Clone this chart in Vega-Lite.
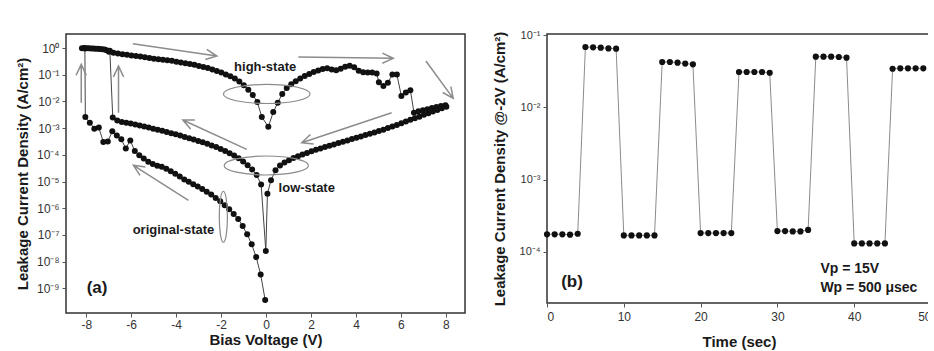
{
  "$schema": "https://vega.github.io/schema/vega-lite/v6.json",
  "background": "white",
  "padding": {"left": 14, "top": 28, "right": -5, "bottom": 0},
  "bounds": "flush",
  "spacing": 82,
  "config": {
    "font": "Liberation Sans",
    "view": {"stroke": "#333", "strokeWidth": 1.5},
    "axis": {"grid": false, "domain": false, "labelFont": "Liberation Sans", "labelFontSize": 12, "labelColor": "#333", "titleFont": "Liberation Sans", "titleFontSize": 15, "titleFontWeight": "bold", "titleColor": "#1a1a1a", "tickColor": "#555", "tickSize": 4, "labelPadding": 3},
    "text": {"font": "Liberation Sans", "fontWeight": "bold", "color": "#1a1a1a"}
  },
  "datasets": {
    "iv": [
      {"state": "orig", "i": 0, "V": -0.04, "J": 3.63e-10},
      {"state": "orig", "i": 1, "V": -0.24, "J": 3.31e-9},
      {"state": "orig", "i": 2, "V": -0.44, "J": 1.48e-8},
      {"state": "orig", "i": 3, "V": -0.64, "J": 4.47e-8},
      {"state": "orig", "i": 4, "V": -0.84, "J": 1.05e-7},
      {"state": "orig", "i": 5, "V": -1.04, "J": 2.14e-7},
      {"state": "orig", "i": 6, "V": -1.24, "J": 3.98e-7},
      {"state": "orig", "i": 7, "V": -1.44, "J": 6.03e-7},
      {"state": "orig", "i": 8, "V": -1.64, "J": 9.12e-7},
      {"state": "orig", "i": 9, "V": -1.84, "J": 1.29e-6},
      {"state": "orig", "i": 10, "V": -2.04, "J": 1.82e-6},
      {"state": "orig", "i": 11, "V": -2.24, "J": 2.40e-6},
      {"state": "orig", "i": 12, "V": -2.44, "J": 3.24e-6},
      {"state": "orig", "i": 13, "V": -2.64, "J": 4.17e-6},
      {"state": "orig", "i": 14, "V": -2.84, "J": 5.25e-6},
      {"state": "orig", "i": 15, "V": -3.04, "J": 6.46e-6},
      {"state": "orig", "i": 16, "V": -3.24, "J": 7.94e-6},
      {"state": "orig", "i": 17, "V": -3.44, "J": 9.77e-6},
      {"state": "orig", "i": 18, "V": -3.64, "J": 1.20e-5},
      {"state": "orig", "i": 19, "V": -3.84, "J": 1.55e-5},
      {"state": "orig", "i": 20, "V": -4.04, "J": 1.95e-5},
      {"state": "orig", "i": 21, "V": -4.24, "J": 2.40e-5},
      {"state": "orig", "i": 22, "V": -4.44, "J": 3.02e-5},
      {"state": "orig", "i": 23, "V": -4.64, "J": 3.55e-5},
      {"state": "orig", "i": 24, "V": -4.84, "J": 3.89e-5},
      {"state": "orig", "i": 25, "V": -5.04, "J": 4.57e-5},
      {"state": "orig", "i": 26, "V": -5.24, "J": 5.50e-5},
      {"state": "orig", "i": 27, "V": -5.44, "J": 7.24e-5},
      {"state": "orig", "i": 28, "V": -5.64, "J": 9.55e-5},
      {"state": "orig", "i": 29, "V": -5.84, "J": 1.38e-4},
      {"state": "orig", "i": 30, "V": -6.04, "J": 3.47e-4},
      {"state": "orig", "i": 31, "V": -6.24, "J": 1.74e-4},
      {"state": "orig", "i": 32, "V": -6.44, "J": 3.80e-4},
      {"state": "orig", "i": 33, "V": -6.64, "J": 5.25e-4},
      {"state": "orig", "i": 34, "V": -6.84, "J": 7.59e-4},
      {"state": "orig", "i": 35, "V": -7.04, "J": 3.16e-4},
      {"state": "orig", "i": 36, "V": -7.24, "J": 3.02e-4},
      {"state": "orig", "i": 37, "V": -7.44, "J": 1.05e-3},
      {"state": "orig", "i": 38, "V": -7.64, "J": 9.55e-4},
      {"state": "orig", "i": 39, "V": -7.84, "J": 1.58e-3},
      {"state": "orig", "i": 40, "V": -8.04, "J": 2.63e-3},
      {"state": "orig", "i": 41, "V": -8.06, "J": 0.95},
      {"state": "high", "i": 0, "V": -8.19, "J": 0.977},
      {"state": "high", "i": 1, "V": -8.09, "J": 1.0},
      {"state": "high", "i": 2, "V": -7.99, "J": 0.977},
      {"state": "high", "i": 3, "V": -7.89, "J": 0.977},
      {"state": "high", "i": 4, "V": -7.79, "J": 0.955},
      {"state": "high", "i": 5, "V": -7.69, "J": 0.955},
      {"state": "high", "i": 6, "V": -7.59, "J": 0.933},
      {"state": "high", "i": 7, "V": -7.49, "J": 0.933},
      {"state": "high", "i": 8, "V": -7.39, "J": 0.912},
      {"state": "high", "i": 9, "V": -7.29, "J": 0.891},
      {"state": "high", "i": 10, "V": -7.19, "J": 0.871},
      {"state": "high", "i": 11, "V": -7.09, "J": 0.832},
      {"state": "high", "i": 12, "V": -6.99, "J": 0.724},
      {"state": "high", "i": 13, "V": -6.79, "J": 0.661},
      {"state": "high", "i": 14, "V": -6.59, "J": 0.617},
      {"state": "high", "i": 15, "V": -6.39, "J": 0.589},
      {"state": "high", "i": 16, "V": -6.19, "J": 0.562},
      {"state": "high", "i": 17, "V": -5.99, "J": 0.525},
      {"state": "high", "i": 18, "V": -5.79, "J": 0.501},
      {"state": "high", "i": 19, "V": -5.59, "J": 0.479},
      {"state": "high", "i": 20, "V": -5.39, "J": 0.447},
      {"state": "high", "i": 21, "V": -5.19, "J": 0.427},
      {"state": "high", "i": 22, "V": -4.99, "J": 0.398},
      {"state": "high", "i": 23, "V": -4.79, "J": 0.380},
      {"state": "high", "i": 24, "V": -4.59, "J": 0.363},
      {"state": "high", "i": 25, "V": -4.39, "J": 0.347},
      {"state": "high", "i": 26, "V": -4.19, "J": 0.331},
      {"state": "high", "i": 27, "V": -3.99, "J": 0.309},
      {"state": "high", "i": 28, "V": -3.79, "J": 0.288},
      {"state": "high", "i": 29, "V": -3.59, "J": 0.269},
      {"state": "high", "i": 30, "V": -3.39, "J": 0.251},
      {"state": "high", "i": 31, "V": -3.19, "J": 0.234},
      {"state": "high", "i": 32, "V": -2.99, "J": 0.214},
      {"state": "high", "i": 33, "V": -2.79, "J": 0.195},
      {"state": "high", "i": 34, "V": -2.59, "J": 0.178},
      {"state": "high", "i": 35, "V": -2.39, "J": 0.158},
      {"state": "high", "i": 36, "V": -2.19, "J": 0.138},
      {"state": "high", "i": 37, "V": -1.99, "J": 0.120},
      {"state": "high", "i": 38, "V": -1.79, "J": 0.102},
      {"state": "high", "i": 39, "V": -1.59, "J": 0.0871},
      {"state": "high", "i": 40, "V": -1.39, "J": 0.0724},
      {"state": "high", "i": 41, "V": -1.19, "J": 0.0562},
      {"state": "high", "i": 42, "V": -0.99, "J": 0.0407},
      {"state": "high", "i": 43, "V": -0.79, "J": 0.0275},
      {"state": "high", "i": 44, "V": -0.59, "J": 0.0174},
      {"state": "high", "i": 45, "V": -0.39, "J": 0.00955},
      {"state": "high", "i": 46, "V": -0.19, "J": 0.00263},
      {"state": "high", "i": 47, "V": 0.10, "J": 0.00112},
      {"state": "high", "i": 48, "V": 0.32, "J": 0.00398},
      {"state": "high", "i": 49, "V": 0.52, "J": 0.00891},
      {"state": "high", "i": 50, "V": 0.72, "J": 0.0191},
      {"state": "high", "i": 51, "V": 0.92, "J": 0.0316},
      {"state": "high", "i": 52, "V": 1.12, "J": 0.0437},
      {"state": "high", "i": 53, "V": 1.32, "J": 0.0575},
      {"state": "high", "i": 54, "V": 1.52, "J": 0.0724},
      {"state": "high", "i": 55, "V": 1.72, "J": 0.0891},
      {"state": "high", "i": 56, "V": 1.92, "J": 0.107},
      {"state": "high", "i": 57, "V": 2.12, "J": 0.126},
      {"state": "high", "i": 58, "V": 2.32, "J": 0.145},
      {"state": "high", "i": 59, "V": 2.52, "J": 0.162},
      {"state": "high", "i": 60, "V": 2.72, "J": 0.174},
      {"state": "high", "i": 61, "V": 2.92, "J": 0.158},
      {"state": "high", "i": 62, "V": 3.12, "J": 0.148},
      {"state": "high", "i": 63, "V": 3.32, "J": 0.166},
      {"state": "high", "i": 64, "V": 3.52, "J": 0.200},
      {"state": "high", "i": 65, "V": 3.72, "J": 0.219},
      {"state": "high", "i": 66, "V": 3.92, "J": 0.191},
      {"state": "high", "i": 67, "V": 4.12, "J": 0.140},
      {"state": "high", "i": 68, "V": 4.32, "J": 0.123},
      {"state": "high", "i": 69, "V": 4.52, "J": 0.120},
      {"state": "high", "i": 70, "V": 4.72, "J": 0.120},
      {"state": "high", "i": 71, "V": 4.92, "J": 0.112},
      {"state": "high", "i": 72, "V": 5.02, "J": 0.0525},
      {"state": "high", "i": 73, "V": 5.22, "J": 0.038},
      {"state": "high", "i": 74, "V": 5.42, "J": 0.0501},
      {"state": "high", "i": 75, "V": 5.62, "J": 0.102},
      {"state": "high", "i": 76, "V": 5.82, "J": 0.102},
      {"state": "high", "i": 77, "V": 6.02, "J": 0.0158},
      {"state": "high", "i": 78, "V": 6.22, "J": 0.0214},
      {"state": "high", "i": 79, "V": 6.42, "J": 0.0263},
      {"state": "high", "i": 80, "V": 6.58, "J": 0.0038},
      {"state": "high", "i": 81, "V": 6.78, "J": 0.00427},
      {"state": "high", "i": 82, "V": 6.98, "J": 0.00468},
      {"state": "high", "i": 83, "V": 7.18, "J": 0.00513},
      {"state": "high", "i": 84, "V": 7.38, "J": 0.00562},
      {"state": "high", "i": 85, "V": 7.58, "J": 0.00617},
      {"state": "high", "i": 86, "V": 7.78, "J": 0.00676},
      {"state": "high", "i": 87, "V": 7.98, "J": 0.00724},
      {"state": "low", "i": 0, "V": 8.02, "J": 0.00631},
      {"state": "low", "i": 1, "V": 7.82, "J": 0.0055},
      {"state": "low", "i": 2, "V": 7.62, "J": 0.00479},
      {"state": "low", "i": 3, "V": 7.42, "J": 0.00417},
      {"state": "low", "i": 4, "V": 7.22, "J": 0.00363},
      {"state": "low", "i": 5, "V": 7.02, "J": 0.00316},
      {"state": "low", "i": 6, "V": 6.82, "J": 0.00269},
      {"state": "low", "i": 7, "V": 6.62, "J": 0.00234},
      {"state": "low", "i": 8, "V": 6.42, "J": 0.00204},
      {"state": "low", "i": 9, "V": 6.22, "J": 0.00178},
      {"state": "low", "i": 10, "V": 6.02, "J": 0.00151},
      {"state": "low", "i": 11, "V": 5.82, "J": 0.00132},
      {"state": "low", "i": 12, "V": 5.62, "J": 0.00115},
      {"state": "low", "i": 13, "V": 5.42, "J": 0.00100},
      {"state": "low", "i": 14, "V": 5.22, "J": 8.71e-4},
      {"state": "low", "i": 15, "V": 5.02, "J": 7.76e-4},
      {"state": "low", "i": 16, "V": 4.82, "J": 6.92e-4},
      {"state": "low", "i": 17, "V": 4.62, "J": 6.17e-4},
      {"state": "low", "i": 18, "V": 4.42, "J": 5.50e-4},
      {"state": "low", "i": 19, "V": 4.22, "J": 4.90e-4},
      {"state": "low", "i": 20, "V": 4.02, "J": 4.37e-4},
      {"state": "low", "i": 21, "V": 3.82, "J": 3.89e-4},
      {"state": "low", "i": 22, "V": 3.62, "J": 3.47e-4},
      {"state": "low", "i": 23, "V": 3.42, "J": 3.09e-4},
      {"state": "low", "i": 24, "V": 3.22, "J": 2.75e-4},
      {"state": "low", "i": 25, "V": 3.02, "J": 2.45e-4},
      {"state": "low", "i": 26, "V": 2.82, "J": 2.19e-4},
      {"state": "low", "i": 27, "V": 2.62, "J": 1.95e-4},
      {"state": "low", "i": 28, "V": 2.42, "J": 1.74e-4},
      {"state": "low", "i": 29, "V": 2.22, "J": 1.55e-4},
      {"state": "low", "i": 30, "V": 2.02, "J": 1.35e-4},
      {"state": "low", "i": 31, "V": 1.82, "J": 1.17e-4},
      {"state": "low", "i": 32, "V": 1.62, "J": 1.02e-4},
      {"state": "low", "i": 33, "V": 1.42, "J": 8.91e-5},
      {"state": "low", "i": 34, "V": 1.22, "J": 7.59e-5},
      {"state": "low", "i": 35, "V": 1.02, "J": 6.31e-5},
      {"state": "low", "i": 36, "V": 0.82, "J": 5.13e-5},
      {"state": "low", "i": 37, "V": 0.62, "J": 3.98e-5},
      {"state": "low", "i": 38, "V": 0.42, "J": 2.63e-5},
      {"state": "low", "i": 39, "V": 0.22, "J": 1.12e-5},
      {"state": "low", "i": 40, "V": 0.06, "J": 3.47e-6},
      {"state": "low", "i": 41, "V": -0.01, "J": 2.51e-8},
      {"state": "low", "i": 42, "V": -0.22, "J": 7.76e-6},
      {"state": "low", "i": 43, "V": -0.42, "J": 1.74e-5},
      {"state": "low", "i": 44, "V": -0.62, "J": 2.82e-5},
      {"state": "low", "i": 45, "V": -0.82, "J": 4.07e-5},
      {"state": "low", "i": 46, "V": -1.02, "J": 5.62e-5},
      {"state": "low", "i": 47, "V": -1.22, "J": 7.41e-5},
      {"state": "low", "i": 48, "V": -1.42, "J": 9.33e-5},
      {"state": "low", "i": 49, "V": -1.62, "J": 1.15e-4},
      {"state": "low", "i": 50, "V": -1.82, "J": 1.38e-4},
      {"state": "low", "i": 51, "V": -2.02, "J": 1.66e-4},
      {"state": "low", "i": 52, "V": -2.22, "J": 1.95e-4},
      {"state": "low", "i": 53, "V": -2.42, "J": 2.24e-4},
      {"state": "low", "i": 54, "V": -2.62, "J": 2.57e-4},
      {"state": "low", "i": 55, "V": -2.82, "J": 2.95e-4},
      {"state": "low", "i": 56, "V": -3.02, "J": 3.31e-4},
      {"state": "low", "i": 57, "V": -3.22, "J": 3.72e-4},
      {"state": "low", "i": 58, "V": -3.42, "J": 4.17e-4},
      {"state": "low", "i": 59, "V": -3.62, "J": 4.68e-4},
      {"state": "low", "i": 60, "V": -3.82, "J": 5.25e-4},
      {"state": "low", "i": 61, "V": -4.02, "J": 5.89e-4},
      {"state": "low", "i": 62, "V": -4.22, "J": 6.46e-4},
      {"state": "low", "i": 63, "V": -4.42, "J": 7.08e-4},
      {"state": "low", "i": 64, "V": -4.62, "J": 7.94e-4},
      {"state": "low", "i": 65, "V": -4.82, "J": 8.71e-4},
      {"state": "low", "i": 66, "V": -5.02, "J": 9.55e-4},
      {"state": "low", "i": 67, "V": -5.22, "J": 1.05e-3},
      {"state": "low", "i": 68, "V": -5.42, "J": 1.15e-3},
      {"state": "low", "i": 69, "V": -5.62, "J": 1.26e-3},
      {"state": "low", "i": 70, "V": -5.82, "J": 1.38e-3},
      {"state": "low", "i": 71, "V": -6.02, "J": 1.48e-3},
      {"state": "low", "i": 72, "V": -6.22, "J": 1.58e-3},
      {"state": "low", "i": 73, "V": -6.42, "J": 1.70e-3},
      {"state": "low", "i": 74, "V": -6.62, "J": 1.91e-3},
      {"state": "low", "i": 75, "V": -6.82, "J": 2.51e-3},
      {"state": "low", "i": 76, "V": -6.95, "J": 0.794}
    ],
    "arrows": [
      {"arrow": 1, "k": 0, "V": -5.926, "J": 1.449},
      {"arrow": 1, "k": 1, "V": -2.191, "J": 0.501},
      {"arrow": 1, "k": 2, "V": -2.636, "J": 0.887},
      {"arrow": 1, "k": 3, "V": -2.191, "J": 0.501},
      {"arrow": 1, "k": 4, "V": -2.702, "J": 0.374},
      {"arrow": 2, "k": 0, "V": 1.436, "J": 0.460},
      {"arrow": 2, "k": 1, "V": 5.658, "J": 0.411},
      {"arrow": 2, "k": 2, "V": 5.178, "J": 0.644},
      {"arrow": 2, "k": 3, "V": 5.658, "J": 0.411},
      {"arrow": 2, "k": 4, "V": 5.173, "J": 0.270},
      {"arrow": 3, "k": 0, "V": 7.111, "J": 0.326},
      {"arrow": 3, "k": 1, "V": 8.324, "J": 0.01306},
      {"arrow": 3, "k": 2, "V": 8.222, "J": 0.0361},
      {"arrow": 3, "k": 3, "V": 8.324, "J": 0.01306},
      {"arrow": 3, "k": 4, "V": 7.858, "J": 0.0216},
      {"arrow": 4, "k": 0, "V": -8.222, "J": 0.00893},
      {"arrow": 4, "k": 1, "V": -8.222, "J": 0.245},
      {"arrow": 4, "k": 2, "V": -8.449, "J": 0.0958},
      {"arrow": 4, "k": 3, "V": -8.222, "J": 0.245},
      {"arrow": 4, "k": 4, "V": -7.996, "J": 0.0958},
      {"arrow": 5, "k": 0, "V": -6.564, "J": 0.00377},
      {"arrow": 5, "k": 1, "V": -6.564, "J": 0.212},
      {"arrow": 5, "k": 2, "V": -6.791, "J": 0.0827},
      {"arrow": 5, "k": 3, "V": -6.564, "J": 0.212},
      {"arrow": 5, "k": 4, "V": -6.338, "J": 0.0827},
      {"arrow": 6, "k": 0, "V": -0.858, "J": 1.607e-4},
      {"arrow": 6, "k": 1, "V": -3.702, "J": 2.01e-3},
      {"arrow": 6, "k": 2, "V": -3.356, "J": 9.18e-4},
      {"arrow": 6, "k": 3, "V": -3.702, "J": 2.01e-3},
      {"arrow": 6, "k": 4, "V": -3.169, "J": 2.03e-3},
      {"arrow": 7, "k": 0, "V": 5.587, "J": 3.77e-3},
      {"arrow": 7, "k": 1, "V": 1.587, "J": 2.84e-4},
      {"arrow": 7, "k": 2, "V": 2.116, "J": 2.52e-4},
      {"arrow": 7, "k": 3, "V": 1.587, "J": 2.84e-4},
      {"arrow": 7, "k": 4, "V": 1.973, "J": 5.75e-4},
      {"arrow": 8, "k": 0, "V": -3.453, "J": 1.977e-6},
      {"arrow": 8, "k": 1, "V": -5.898, "J": 4.04e-5},
      {"arrow": 8, "k": 2, "V": -5.609, "J": 1.69e-5},
      {"arrow": 8, "k": 3, "V": -5.898, "J": 4.04e-5},
      {"arrow": 8, "k": 4, "V": -5.369, "J": 3.52e-5}
    ],
    "labelsA": [
      {"V": -0.04, "J": 0.2, "text": "high-state"},
      {"V": 1.81, "J": 5.6e-6, "text": "low-state"},
      {"V": -4.12, "J": 1.48e-7, "text": "original-state"}
    ],
    "pulse": [
      {"t": 0, "J": 1.74e-4}, {"t": 1, "J": 1.74e-4}, {"t": 2, "J": 1.74e-4}, {"t": 3, "J": 1.72e-4}, {"t": 4, "J": 1.77e-4},
      {"t": 5, "J": 0.0689}, {"t": 6, "J": 0.0681}, {"t": 7, "J": 0.0674}, {"t": 8, "J": 0.0659}, {"t": 9, "J": 0.0653},
      {"t": 10, "J": 1.68e-4}, {"t": 11, "J": 1.68e-4}, {"t": 12, "J": 1.68e-4}, {"t": 13, "J": 1.68e-4}, {"t": 14, "J": 1.68e-4},
      {"t": 15, "J": 0.0427}, {"t": 16, "J": 0.0427}, {"t": 17, "J": 0.0418}, {"t": 18, "J": 0.0405}, {"t": 19, "J": 0.0396},
      {"t": 20, "J": 1.81e-4}, {"t": 21, "J": 1.81e-4}, {"t": 22, "J": 1.81e-4}, {"t": 23, "J": 1.81e-4}, {"t": 24, "J": 1.81e-4},
      {"t": 25, "J": 0.0310}, {"t": 26, "J": 0.0310}, {"t": 27, "J": 0.0310}, {"t": 28, "J": 0.0310}, {"t": 29, "J": 0.0303},
      {"t": 30, "J": 1.93e-4}, {"t": 31, "J": 1.93e-4}, {"t": 32, "J": 1.91e-4}, {"t": 33, "J": 1.91e-4}, {"t": 34, "J": 2.00e-4},
      {"t": 35, "J": 0.0506}, {"t": 36, "J": 0.0506}, {"t": 37, "J": 0.0506}, {"t": 38, "J": 0.0500}, {"t": 39, "J": 0.0490},
      {"t": 40, "J": 1.30e-4}, {"t": 41, "J": 1.30e-4}, {"t": 42, "J": 1.30e-4}, {"t": 43, "J": 1.30e-4}, {"t": 44, "J": 1.30e-4},
      {"t": 45, "J": 0.0344}, {"t": 46, "J": 0.0348}, {"t": 47, "J": 0.0348}, {"t": 48, "J": 0.0348}, {"t": 49, "J": 0.0348}
    ]
  },
  "hconcat": [
    {
      "width": 399,
      "height": 279,
      "layer": [
        {
          "data": {"name": "iv"},
          "mark": {"type": "line", "color": "#444", "strokeWidth": 1},
          "encoding": {
            "x": {"field": "V", "type": "quantitative", "scale": {"domain": [-8.9, 8.85], "nice": false, "zero": false},
              "axis": {"title": "Bias Voltage (V)", "values": [-8, -6, -4, -2, 0, 2, 4, 6, 8], "labelExpr": "replace(datum.label, '−', '-')", "titlePadding": 2, "labelPadding": 2}},
            "y": {"field": "J", "type": "quantitative", "scale": {"type": "log", "domain": [1.19e-10, 3.35], "nice": false},
              "axis": {"title": "Leakage Current Density (A/cm²)", "values": [1e-9, 1e-8, 1e-7, 1e-6, 1e-5, 1e-4, 1e-3, 1e-2, 1e-1, 1], "labelExpr": "'10' + (round(log(datum.value)/LN10) == 0 ? '⁰' : '⁻' + ['','¹','²','³','⁴','⁵','⁶','⁷','⁸','⁹'][-round(log(datum.value)/LN10)])", "titlePadding": 6}},
            "detail": {"field": "state"},
            "order": {"field": "i"}
          }
        },
        {
          "data": {"name": "iv"},
          "mark": {"type": "point", "filled": true, "color": "#111", "opacity": 1, "size": 36},
          "encoding": {
            "x": {"field": "V", "type": "quantitative"},
            "y": {"field": "J", "type": "quantitative"}
          }
        },
        {
          "data": {"name": "arrows"},
          "mark": {"type": "line", "color": "#8c8c8c", "strokeWidth": 1.5},
          "encoding": {
            "x": {"field": "V", "type": "quantitative"},
            "y": {"field": "J", "type": "quantitative"},
            "detail": {"field": "arrow"},
            "order": {"field": "k"}
          }
        },
        {
          "data": {"values": [{"V": 0.03, "J": 0.019}]},
          "mark": {"type": "point", "shape": "M-1,0A1,0.22,0,1,0,1,0A1,0.22,0,1,0,-1,0", "size": 7500, "filled": false, "color": "#8a8a8a", "opacity": 1, "strokeWidth": 1.2},
          "encoding": {"x": {"field": "V", "type": "quantitative"}, "y": {"field": "J", "type": "quantitative"}}
        },
        {
          "data": {"values": [{"V": 0.01, "J": 3.98e-5}]},
          "mark": {"type": "point", "shape": "M-1,0A1,0.225,0,1,0,1,0A1,0.225,0,1,0,-1,0", "size": 7100, "filled": false, "color": "#8a8a8a", "opacity": 1, "strokeWidth": 1.2},
          "encoding": {"x": {"field": "V", "type": "quantitative"}, "y": {"field": "J", "type": "quantitative"}}
        },
        {
          "data": {"values": [{"V": -1.9, "J": 4.79e-7}]},
          "mark": {"type": "point", "shape": "M0,-1A0.16,1,0,1,0,0,1A0.16,1,0,1,0,0,-1", "size": 2600, "filled": false, "color": "#8a8a8a", "opacity": 1, "strokeWidth": 1.2},
          "encoding": {"x": {"field": "V", "type": "quantitative"}, "y": {"field": "J", "type": "quantitative"}}
        },
        {
          "data": {"name": "labelsA"},
          "mark": {"type": "text", "fontSize": 13, "align": "center", "baseline": "middle"},
          "encoding": {
            "x": {"field": "V", "type": "quantitative"},
            "y": {"field": "J", "type": "quantitative"},
            "text": {"field": "text"}
          }
        },
        {
          "data": {"values": [{"V": -7.52, "J": 1.05e-9, "text": "(a)"}]},
          "mark": {"type": "text", "fontSize": 17, "align": "center", "baseline": "middle"},
          "encoding": {
            "x": {"field": "V", "type": "quantitative"},
            "y": {"field": "J", "type": "quantitative"},
            "text": {"field": "text"}
          }
        }
      ]
    },
    {
      "width": 384,
      "height": 269,
      "layer": [
        {
          "data": {"name": "pulse"},
          "mark": {"type": "line", "color": "#8c8c8c", "strokeWidth": 1},
          "encoding": {
            "x": {"field": "t", "type": "quantitative", "scale": {"domain": [0, 50], "nice": false},
              "axis": {"title": "Time (sec)", "values": [0, 10, 20, 30, 40, 50], "titlePadding": 12, "labelPadding": 4}},
            "y": {"field": "J", "type": "quantitative", "scale": {"type": "log", "domain": [1.94e-5, 0.1043], "nice": false},
              "axis": {"title": "Leakage Current Density @-2V (A/cm²)", "values": [1e-4, 1e-3, 1e-2, 1e-1], "labelExpr": "'10' + (round(log(datum.value)/LN10) == 0 ? '⁰' : '⁻' + ['','¹','²','³','⁴','⁵','⁶','⁷','⁸','⁹'][-round(log(datum.value)/LN10)])", "titlePadding": 12, "labelFontSize": 11}}
          }
        },
        {
          "data": {"name": "pulse"},
          "mark": {"type": "point", "filled": true, "color": "#111", "opacity": 1, "size": 38},
          "encoding": {
            "x": {"field": "t", "type": "quantitative"},
            "y": {"field": "J", "type": "quantitative"}
          }
        },
        {
          "data": {"values": [{"t": 3.26, "J": 3.8e-5, "text": "(b)"}]},
          "mark": {"type": "text", "fontSize": 17, "align": "center", "baseline": "middle"},
          "encoding": {
            "x": {"field": "t", "type": "quantitative"},
            "y": {"field": "J", "type": "quantitative"},
            "text": {"field": "text"}
          }
        },
        {
          "data": {"values": [{"t": 35.6, "J": 5.69e-5, "text": "Vp = 15V"}, {"t": 35.6, "J": 3.16e-5, "text": "Wp = 500 μsec"}]},
          "mark": {"type": "text", "fontSize": 14, "align": "left", "baseline": "middle"},
          "encoding": {
            "x": {"field": "t", "type": "quantitative"},
            "y": {"field": "J", "type": "quantitative"},
            "text": {"field": "text"}
          }
        }
      ]
    }
  ]
}
